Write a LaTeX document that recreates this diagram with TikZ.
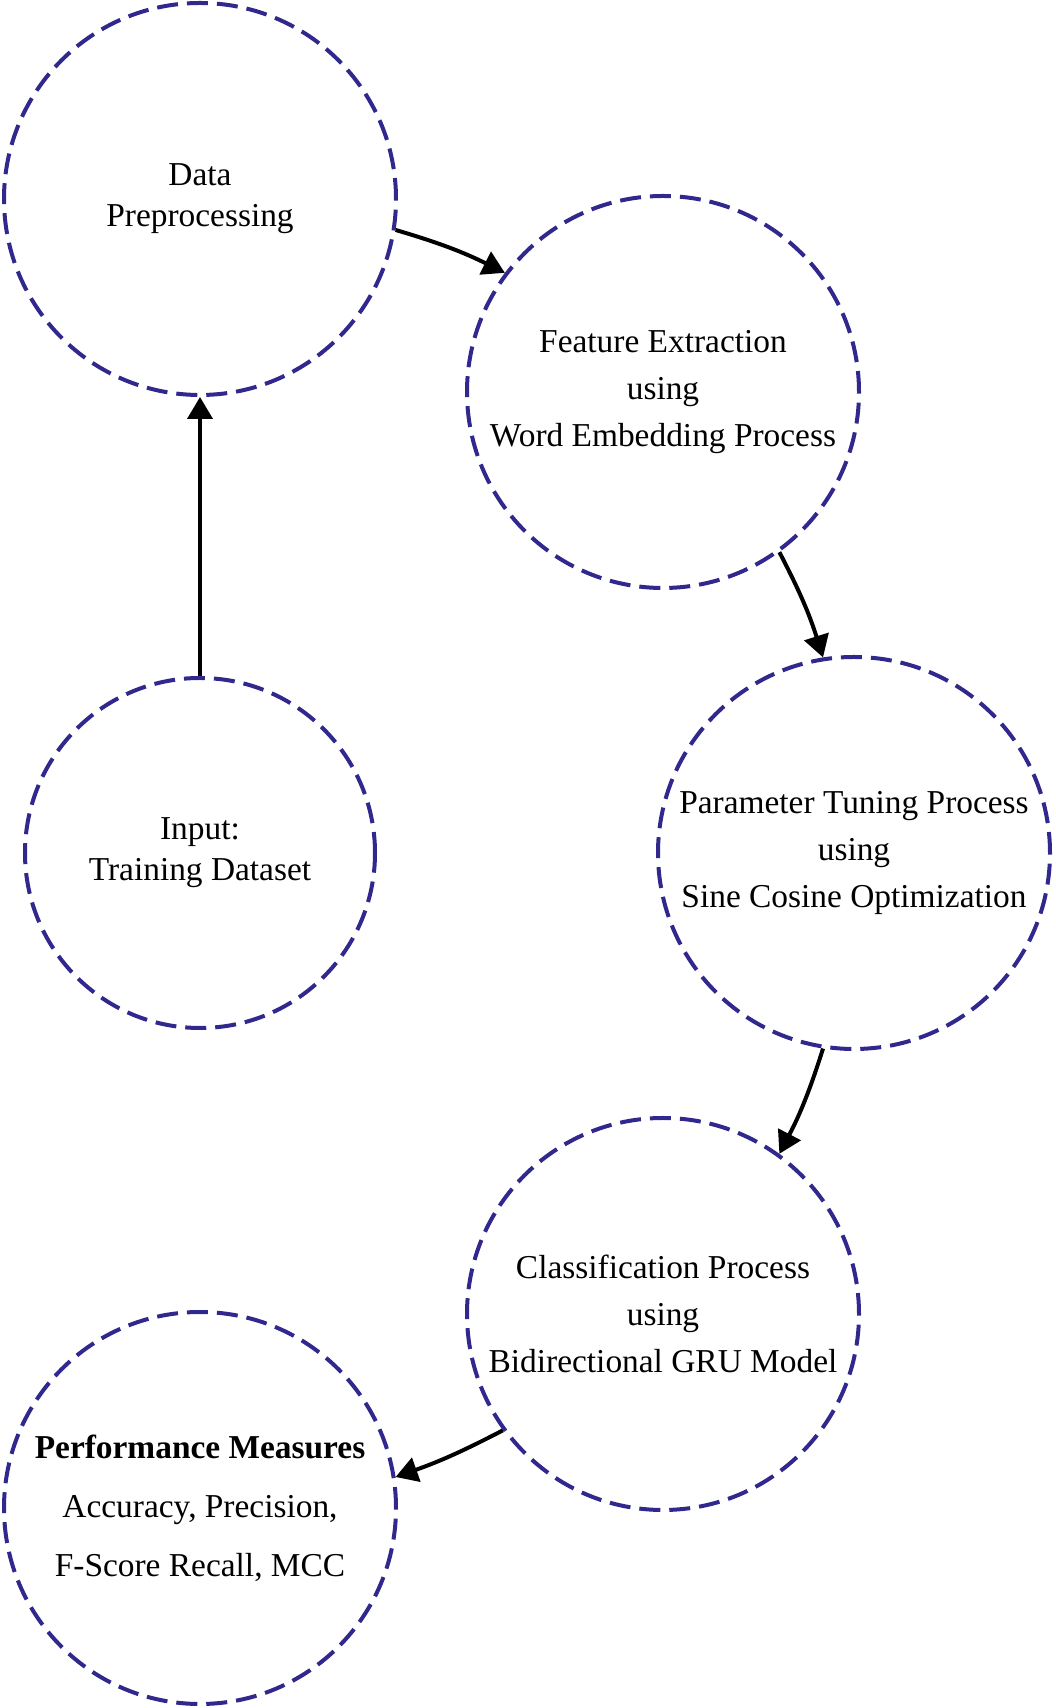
\documentclass[tikz,border=0pt]{standalone}
\usepackage{fontspec}
\setmainfont{Liberation Serif}
\usepackage{tikz}
\usetikzlibrary{arrows.meta}
\usetikzlibrary{shapes.geometric}

\definecolor{ringblue}{RGB}{48,40,140}

\begin{document}
\begin{tikzpicture}[x=0.5pt, y=0.5pt,
        stage/.style={circle, draw=ringblue, line width=2pt,
            dash pattern=on 10.5pt off 4.5pt, minimum size=196pt,
            inner sep=0pt, align=center},
        flow/.style={-{Triangle[length=11pt, width=12.5pt]}, line width=2pt, black}]
        \useasboundingbox (0, 0) rectangle (1055, 1708);
        % stages
        \node [stage, font=\fontsize{16.7}{20.5}\selectfont] (prep) at (200, 1509) {Data\\Preprocessing};
        \node [stage, font=\fontsize{16.7}{23.5}\selectfont] (feat) at (663, 1316) {Feature Extraction\\using\\Word Embedding Process};
        \node [stage, font=\fontsize{16.7}{23.5}\selectfont] (tune) at (854, 855) {Parameter Tuning Process\\using\\Sine Cosine Optimization};
        \node [stage, minimum size=175pt, font=\fontsize{16.7}{20.5}\selectfont] (input) at (200, 855) {Input:\\Training Dataset};
        \node [stage, font=\fontsize{16.7}{23.5}\selectfont] (clas) at (663, 394) {Classification Process\\using\\Bidirectional GRU Model};
        \node [stage, font=\fontsize{16.7}{29.5}\selectfont] (perf) at (200, 200) {\textbf{Performance Measures}\\Accuracy, Precision,\\F-Score Recall, MCC};
        % arrows
        \draw [flow] (input.north) -- (prep.south);
        \draw [flow] (prep.-9) to [bend left=5] (feat.143);
        \draw [flow] (feat.-54) to [bend left=5] (tune.99);
        \draw [flow] (tune.-99) to [bend left=5] (clas.54);
        \draw [flow] (clas.216) to [bend left=4] (perf.9);
    \end{tikzpicture}
\end{document}
